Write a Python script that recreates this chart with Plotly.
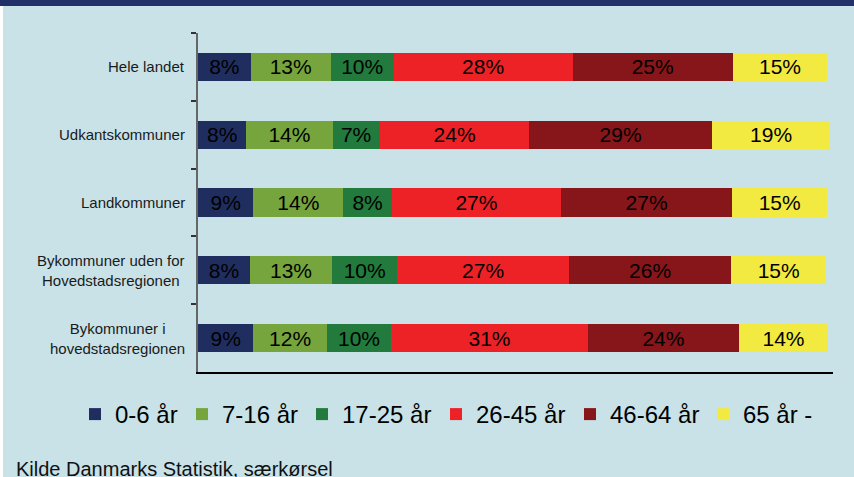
import plotly.graph_objects as go

# Categories (top to bottom) and share of population per age group (%)
categories = [
    "Hele landet",
    "Udkantskommuner",
    "Landkommuner",
    "Bykommuner uden for<br>Hovedstadsregionen",
    "Bykommuner i<br>hovedstadsregionen",
]
age_groups = ["0-6 år", "7-16 år", "17-25 år", "26-45 år", "46-64 år", "65 år -"]

age_0_6 = [8.3, 7.6, 8.7, 8.2, 8.7]
age_7_16 = [12.6, 13.6, 14.2, 12.9, 11.6]
age_17_25 = [9.9, 7.4, 7.6, 10.3, 10.1]
age_26_45 = [28.2, 23.6, 26.7, 27.0, 31.0]
age_46_64 = [25.2, 28.7, 26.9, 25.6, 23.8]
age_65 = [14.9, 18.7, 15.0, 14.9, 14.0]

series = [age_0_6, age_7_16, age_17_25, age_26_45, age_46_64, age_65]
colors = ["#1f2e5f", "#76a43d", "#227a3d", "#ec2227", "#86161a", "#f2ea41"]

BG = "#c8e2e8"

# plot area in pixels: x 198..833, y 33..372
PL, PW, PT, PH = 198, 635, 33, 339

# left edge of each legend entry text in pixels
legend_text_x = [115, 222, 342, 476, 610, 743]

fig = go.Figure()

for i, (name, vals, col) in enumerate(zip(age_groups, series, colors)):
    fig.add_trace(go.Bar(
        y=categories,
        x=vals,
        name=name,
        orientation="h",
        legend="legend" if i == 0 else f"legend{i + 1}",
        marker=dict(color=col, line=dict(width=0)),
        texttemplate="%{x:.0f}%",
        textposition="inside",
        insidetextanchor="middle",
        textfont=dict(size=21, color="#000000"),
        constraintext="none",
    ))

# Category labels as centred annotations (multi-line labels are centred)
for cat in categories:
    fig.add_annotation(
        x=0, xref="paper", y=cat, yref="y",
        text=cat, showarrow=False,
        xanchor="right", align="center", xshift=-11,
        font=dict(size=15, color="#1a1a1a"),
    )

# Source line
fig.add_annotation(
    x=0, xref="paper", xshift=-184, y=-0.285, yref="paper",
    text="Kilde Danmarks Statistik, særkørsel", showarrow=False,
    xanchor="left", yanchor="middle",
    font=dict(size=20, color="#111111"),
)

# Dark title band at top and white strip at left edge
fig.add_shape(type="rect", xref="paper", yref="paper",
              x0=-0.4, x1=1.1, y0=1.0 + 27 / PH, y1=1.2,
              fillcolor="#22306a", line=dict(width=0), layer="above")
fig.add_shape(type="rect", xref="paper", yref="paper",
              x0=-0.4, x1=-195 / PW, y0=-0.4, y1=1.0 + 27 / PH,
              fillcolor="#ffffff", line=dict(width=0), layer="above")

# one legend per age group so entries sit where the reference has them
legends = {}
for i, tx in enumerate(legend_text_x):
    key = "legend" if i == 0 else f"legend{i + 1}"
    legends[key] = dict(
        orientation="h",
        x=(tx - 40 - PL) / PW, xanchor="left",
        y=-0.059, yanchor="top",
        font=dict(size=24, color="#000000"),
        bgcolor="rgba(0,0,0,0)",
    )

fig.update_layout(
    width=854, height=477,
    barmode="stack",
    bargap=0.585,
    paper_bgcolor=BG,
    plot_bgcolor=BG,
    font=dict(family="Liberation Sans, Arial, sans-serif", color="#111111"),
    margin=dict(l=PL, r=854 - PL - PW, t=PT, b=477 - PT - PH),
    showlegend=True,
    **legends,
)

fig.update_xaxes(
    range=[0, 100],
    showgrid=False, zeroline=False,
    showticklabels=False, ticks="",
    showline=True, linecolor="#000000", linewidth=1.5,
)
fig.update_yaxes(
    autorange="reversed",
    showgrid=False, zeroline=False,
    showticklabels=False,
    ticks="outside", tickson="boundaries", ticklen=5,
    tickcolor="#333333", tickwidth=1.5,
    showline=True, linecolor="#666666", linewidth=2,
)

fig.write_html(
    "out.html",
    config={"displayModeBar": False},
    post_script="document.body.style.margin='0';",
)
